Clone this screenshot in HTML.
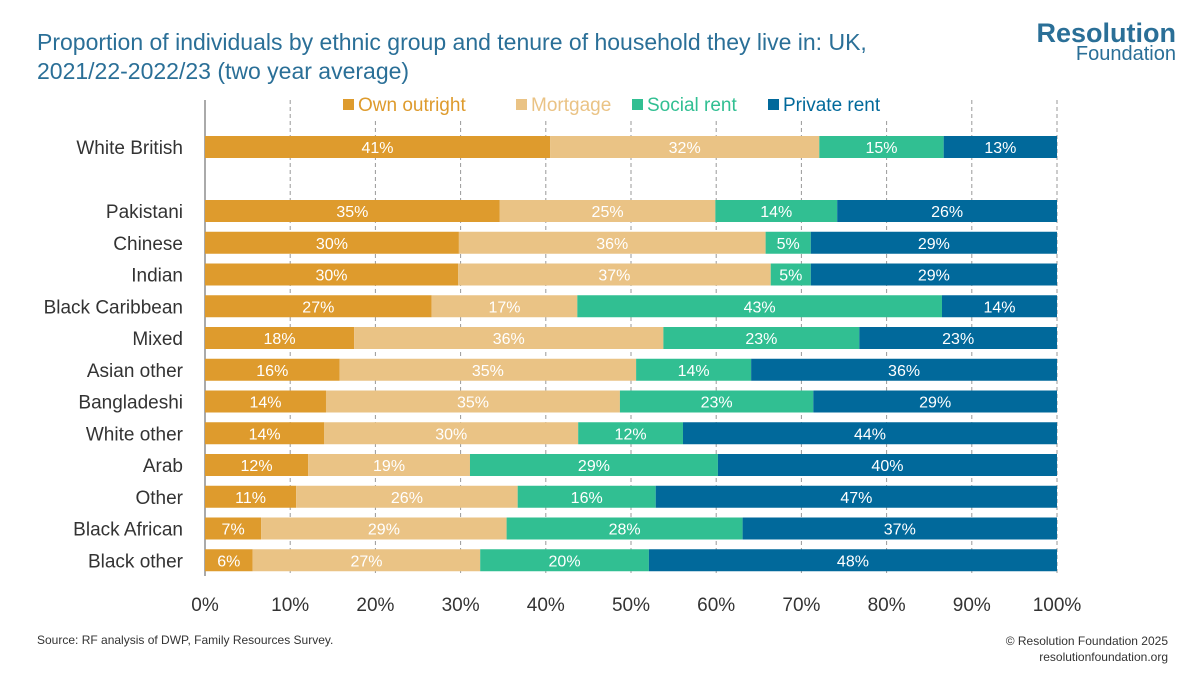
<!DOCTYPE html>
<html><head><meta charset="utf-8"><style>
body{margin:0;width:1200px;height:675px;background:#fff;font-family:"Liberation Sans",sans-serif;overflow:hidden;position:relative}
.t{position:absolute;left:37px;top:28px;font-size:23px;line-height:29px;color:#2a6f97}
.logo1{position:absolute;right:24px;top:18px;font-size:27px;font-weight:bold;color:#2a6f97}
.logo2{position:absolute;right:24px;top:43px;font-size:20px;color:#2a6f97}
.src{position:absolute;left:37px;top:633px;font-size:12px;color:#333}
.cr{position:absolute;right:32px;top:633px;font-size:12px;color:#333;text-align:right;line-height:16px}
</style></head><body>
<div class="t">Proportion of individuals by ethnic group and tenure of household they live in: UK,<br>2021/22-2022/23 (two year average)</div>
<div class="logo1">Resolution</div>
<div class="logo2">Foundation</div>
<svg id="c" width="1200" height="675" style="position:absolute;left:0;top:0"></svg>
<div class="src">Source: RF analysis of DWP, Family Resources Survey.</div>
<div class="cr">© Resolution Foundation 2025<br>resolutionfoundation.org</div>
<script>
const categories=["White British","Pakistani","Chinese","Indian","Black Caribbean","Mixed","Asian other","Bangladeshi","White other","Arab","Other","Black African","Black other"];
const seriesNames=["Own outright","Mortgage","Social rent","Private rent"];
const ownOutright=[40.5,34.6,29.8,29.7,26.6,17.5,15.8,14.2,14.0,12.1,10.7,6.6,5.6];
const mortgage=[31.6,25.3,36.0,36.7,17.1,36.3,34.8,34.5,29.8,19.0,26.0,28.8,26.7];
const socialRent=[14.6,14.3,5.3,4.7,42.8,23.0,13.5,22.7,12.3,29.1,16.2,27.7,19.8];
const privateRent=[13.3,25.8,28.9,28.9,13.5,23.2,35.9,28.6,43.9,39.8,47.1,36.9,47.9];
const ticks=[0,10,20,30,40,50,60,70,80,90,100];
const colors=["#DE9B2D","#EAC385","#31BF92","#01699B"];
const NS="http://www.w3.org/2000/svg",svg=document.getElementById('c');
const x=v=>205+v*8.52;
const y=i=>i===0?147:211+(i-1)*31.75;
function mk(t,a){const e=document.createElementNS(NS,t);for(const k in a)e.setAttribute(k,a[k]);svg.appendChild(e);return e;}
ticks.forEach(t=>{
 if(t>0){const g=mk('line',{x1:x(t),x2:x(t),y1:100,y2:576,stroke:'#999','stroke-dasharray':'4,3'});
 
 }
 const l=mk('text',{x:x(t),y:611,'text-anchor':'middle','font-size':19,fill:'#333'});l.textContent=t+'%';
 
 
});
const ax=mk('line',{x1:205,x2:205,y1:100,y2:576,stroke:'#555'});


const all=[ownOutright,mortgage,socialRent,privateRent];
categories.forEach((c,i)=>{
 const cy=y(i);
 const lb=mk('text',{x:183,y:cy+7,'text-anchor':'end','font-size':19,fill:'#333'});lb.textContent=c;
 
 
 let acc=0;
 all.forEach((s,k)=>{
  const v=s[i];
  const r=mk('rect',{x:x(acc),y:cy-11,width:v*8.52,height:22,fill:colors[k]});
  
  
  const tx=mk('text',{x:x(acc+v/2),y:cy+6,'text-anchor':'middle','font-size':16,fill:'#fff'});
  tx.textContent=Math.round(v)+'%';
  
  
  acc+=v;
 });
});
const bg=mk('rect',{x:335,y:92,width:560,height:26,fill:'#fff'});


const lx=[343,516,632,768];
seriesNames.forEach((n,k)=>{
 const r=mk('rect',{x:lx[k],y:99,width:11,height:11,fill:colors[k]});
 
 
 const t=mk('text',{x:lx[k]+15,y:111,'font-size':19,fill:colors[k]});t.textContent=n;
 
 
});
</script>
</body></html>
